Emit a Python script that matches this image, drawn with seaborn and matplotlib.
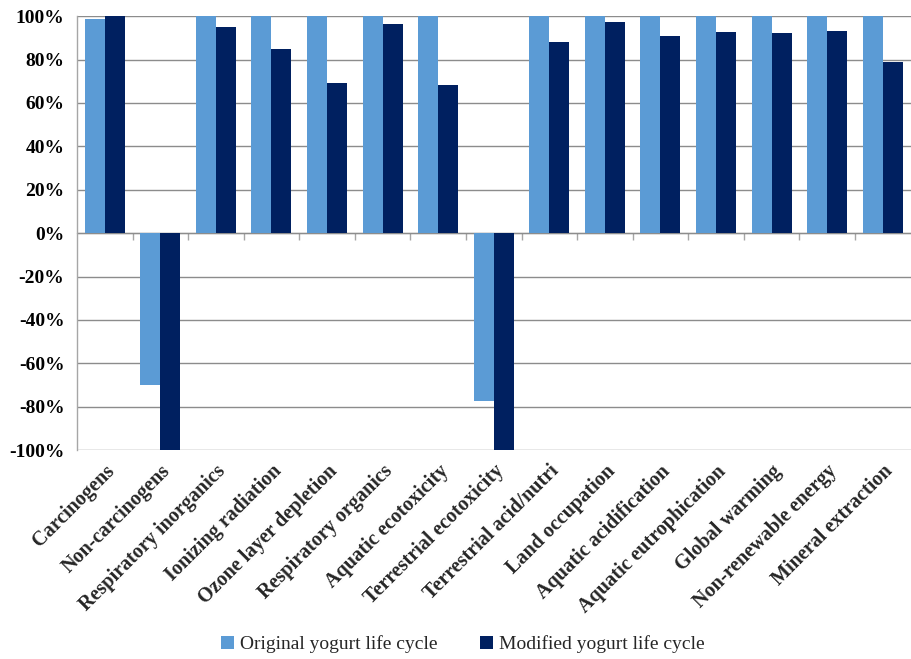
import matplotlib
matplotlib.use("Agg")
import matplotlib.pyplot as plt
import seaborn as sns
import pandas as pd
import numpy as np
from matplotlib.ticker import PercentFormatter, FixedLocator

categories = [
    "Carcinogens", "Non-carcinogens", "Respiratory inorganics", "Ionizing radiation",
    "Ozone layer depletion", "Respiratory organics", "Aquatic ecotoxicity",
    "Terrestrial ecotoxicity", "Terrestrial acid/nutri", "Land occupation",
    "Aquatic acidification", "Aquatic eutrophication", "Global warming",
    "Non-renewable energy", "Mineral extraction",
]
original = [0.988, -0.702, 1.0, 1.0, 1.0, 1.0, 1.0, -0.774, 1.0, 1.0, 1.0, 1.0, 1.0, 1.0, 1.0]
modified = [1.0, -1.0, 0.952, 0.849, 0.690, 0.966, 0.682, -1.0, 0.879, 0.971, 0.908, 0.925, 0.923, 0.932, 0.787]
series_names = ["Original yogurt life cycle", "Modified yogurt life cycle"]
colors = ["#5B9BD5", "#002060"]
y_ticks = [-1.0, -0.8, -0.6, -0.4, -0.2, 0.0, 0.2, 0.4, 0.6, 0.8, 1.0]

df = pd.DataFrame({
    "Category": categories * 2,
    "Value": original + modified,
    "Series": [series_names[0]] * len(categories) + [series_names[1]] * len(categories),
})

sns.set_style("white")
plt.rcParams["axes.unicode_minus"] = False
plt.rcParams["font.family"] = ["Liberation Serif", "DejaVu Serif"]

fig = plt.figure(figsize=(9.11, 6.59), dpi=100)
ax = fig.add_axes([0.0845, 0.317, 0.915, 0.6585])

sns.barplot(data=df, x="Category", y="Value", hue="Series", order=categories,
            hue_order=series_names, palette=colors, width=0.72, gap=0,
            saturation=1, linewidth=0, ax=ax, legend=True)

ax.set_ylim(-1.0, 1.0)
ax.set_xlim(-0.5, len(categories) - 0.5)
ax.yaxis.set_major_locator(FixedLocator(y_ticks))
ax.yaxis.set_major_formatter(PercentFormatter(1.0, decimals=0))
ax.grid(axis="y", color="#8c8c8c", linewidth=1.0)
ax.set_axisbelow(True)
ax.set_xlabel("")
ax.set_ylabel("")

for side in ["top", "right", "bottom"]:
    ax.spines[side].set_visible(False)
ax.spines["left"].set_color("#a6a6a6")
ax.spines["left"].set_linewidth(1.0)

ax.tick_params(axis="y", length=5, color="#a6a6a6", width=1, pad=4,
               labelsize=14, labelcolor="black")
for lab in ax.get_yticklabels():
    lab.set_fontweight("bold")

ax.tick_params(axis="x", length=0, pad=8)
ax.set_xticks(range(len(categories)))
ax.set_xticklabels(categories, rotation=45, ha="right", rotation_mode="anchor",
                   fontsize=14.5, fontweight="bold")

# zero baseline with category boundary ticks
zero_axis = ax.secondary_xaxis(0.5)
zero_axis.set_xticks(np.arange(0.5, len(categories) - 0.5, 1.0))
zero_axis.tick_params(axis="x", length=5, direction="out", color="#a6a6a6",
                      labelbottom=False, labeltop=False, width=1)
zero_axis.xaxis.set_ticks_position("bottom")
zero_axis.spines["bottom"].set_color("#a6a6a6")
zero_axis.spines["bottom"].set_linewidth(1.0)
zero_axis.set_xticklabels([])

handles, labels = ax.get_legend_handles_labels()
ax.legend_.remove()
fig.legend(handles, labels, loc="center", bbox_to_anchor=(0.508, 0.022), ncol=2,
           frameon=False, fontsize=14, handlelength=0.65, handleheight=0.65,
           handletextpad=0.3, columnspacing=2.2)

fig.savefig("out.png", dpi=100)
